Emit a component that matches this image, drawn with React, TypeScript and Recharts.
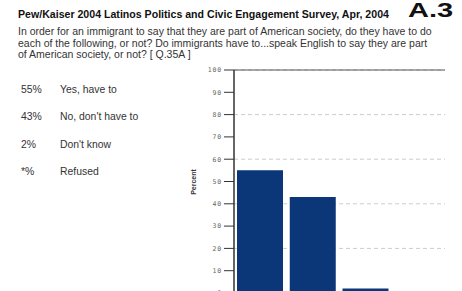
import React from "react";
import { Bar, BarChart, CartesianGrid, ReferenceLine, XAxis, YAxis } from "recharts";

const categories = ["Yes, have to", "No, don't have to", "Don't know", "Refused"];
const percents = [55, 43, 2, 0.3];
const percentLabels = ["55%", "43%", "2%", "*%"];
const yTicks = [0, 10, 20, 30, 40, 50, 60, 70, 80, 90, 100];

const title = "Pew/Kaiser 2004 Latinos Politics and Civic Engagement Survey, Apr, 2004";
const questionLines = [
  "In order for an immigrant to say that they are part of American society, do they have to do",
  "each of the following, or not? Do immigrants have to...speak English to say they are part",
  "of American society, or not? [ Q.35A ]",
];

const chartData = categories.map((name, i) => ({ name, value: percents[i] }));

const font = '"Liberation Sans", Arial, sans-serif';

export default function App() {
  return (
    <div
      style={{
        position: "absolute",
        top: 0,
        left: 0,
        width: 462,
        height: 291,
        overflow: "hidden",
        background: "#fff",
        fontFamily: font,
      }}
    >
      <div style={{ position: "absolute", left: 18, top: 8, fontSize: 10.6, fontWeight: "bold", color: "#111", whiteSpace: "nowrap" }}>
        {title}
      </div>
      <div
        style={{
          position: "absolute",
          left: 408,
          top: 0,
          fontSize: 20,
          lineHeight: 1,
          fontWeight: "bold",
          color: "#111",
          transform: "scaleX(1.45)",
          transformOrigin: "left top",
          whiteSpace: "nowrap",
        }}
      >
        A.3
      </div>
      {questionLines.map((line, i) => (
        <div
          key={i}
          style={{ position: "absolute", left: 18, top: 25.3 + i * 11.4, fontSize: 10.5, color: "#333", whiteSpace: "nowrap" }}
        >
          {line}
        </div>
      ))}
      {categories.map((c, i) => (
        <React.Fragment key={c}>
          <div style={{ position: "absolute", left: 21, top: 83.5 + i * 27.5, fontSize: 10.4, color: "#333" }}>
            {percentLabels[i]}
          </div>
          <div style={{ position: "absolute", left: 60, top: 83.5 + i * 27.5, fontSize: 10.4, color: "#333" }}>{c}</div>
        </React.Fragment>
      ))}
      <div
        style={{
          position: "absolute",
          left: 193,
          top: 182,
          transform: "translate(-50%, -50%) rotate(-90deg)",
          fontSize: 7,
          fontWeight: "bold",
          color: "#333",
          whiteSpace: "nowrap",
        }}
      >
        Percent
      </div>
      <div style={{ position: "absolute", left: 0, top: 0 }}>
        <BarChart
          width={462}
          height={300}
          data={chartData}
          margin={{ top: 70, right: 17, bottom: 7, left: 174 }}
        >
          <CartesianGrid vertical={false} stroke="#ccc" strokeDasharray="4 3" />
          <XAxis dataKey="name" hide />
          <YAxis
            domain={[0, 100]}
            ticks={yTicks}
            width={60}
            tickSize={10}
            tickMargin={2}
            tickLine={{ stroke: "#333" }}
            axisLine={{ stroke: "#333", strokeWidth: 1.5 }}
            tick={{ fontSize: 6.5, fill: "#666", fontFamily: "DejaVu Sans Mono", letterSpacing: 0.8 }}
          />
          <YAxis
            yAxisId="right"
            orientation="right"
            domain={[0, 100]}
            width={0}
            tick={false}
            tickLine={false}
            axisLine={{ stroke: "#555" }}
          />
          <ReferenceLine y={100} stroke="#555" />
          <Bar dataKey="value" fill="#0b3677" barSize={46} isAnimationActive={false} />
        </BarChart>
      </div>
    </div>
  );
}
